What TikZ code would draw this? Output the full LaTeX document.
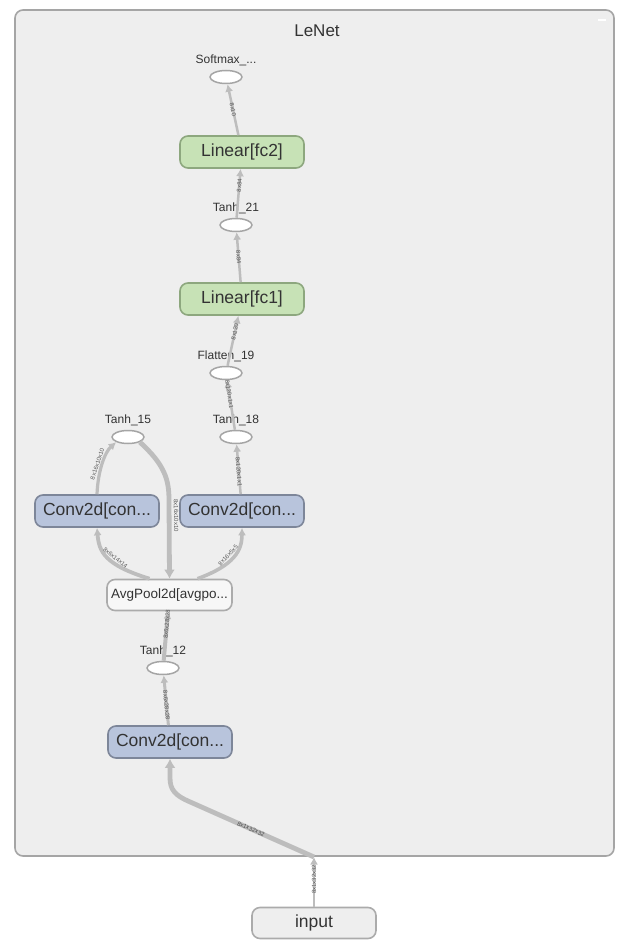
\documentclass[tikz,border=0pt]{standalone}
\usepackage{fontspec}
\setmainfont{Liberation Sans}
\usepackage{tikz}
\usetikzlibrary{arrows.meta,shapes.geometric}
\definecolor{groupfill}{HTML}{EEEEEE}
\definecolor{groupline}{HTML}{A5A5A5}
\definecolor{linfill}{HTML}{C7E2B6}
\definecolor{linline}{HTML}{8DA77E}
\definecolor{convfill}{HTML}{B8C4DC}
\definecolor{convline}{HTML}{7D8699}
\definecolor{poolfill}{HTML}{F7F7F7}
\definecolor{poolline}{HTML}{ABABAB}
\definecolor{edgegray}{HTML}{BDBDBD}
\definecolor{txtdark}{HTML}{333333}
\tikzset{
  graphbox/.style={draw=groupline,fill=groupfill,line width=1.6pt,rounded corners=8pt},
  opbox/.style={draw,line width=1.6pt,rounded corners=8pt,minimum width=124pt,minimum height=32pt,inner sep=0pt,text=txtdark},
  linbox/.style={opbox,fill=linfill,draw=linline,font=\fontsize{17.5}{19}\selectfont},
  convbox/.style={opbox,fill=convfill,draw=convline,font=\fontsize{17.5}{19}\selectfont},
  poolbox/.style={opbox,fill=poolfill,draw=poolline,minimum width=125pt,minimum height=31pt,font=\fontsize{13.5}{15}\selectfont},
  inbox/.style={opbox,fill=groupfill,draw=poolline,minimum height=31pt,font=\fontsize{17.5}{19}\selectfont},
  opdot/.style={ellipse,draw=groupline,fill=white,line width=1.5pt,minimum width=32pt,minimum height=13pt,inner sep=0pt,
    label={[font=\fontsize{12}{13}\selectfont,text=txtdark,label distance=0.5pt]above:#1}},
  edge/.style={draw=edgegray,line width=2.5pt,-{Latex[length=7.5pt,width=8pt]}},
  fatedge/.style={draw=edgegray,line width=4.8pt,-{Latex[length=9pt,width=11pt]}},
  elabel/.style={sloped,font=\fontsize{6}{6}\selectfont,text=black!65,inner sep=0pt}
}
\begin{document}
\begin{tikzpicture}[x=1pt,y=-1pt]
\useasboundingbox[fill=white] (0,0) rectangle (634,952);
\draw[graphbox] (15,10) rectangle (614,856);
\draw[white,line width=1.5pt] (598,20) -- (606,20);
\node[font=\fontsize{17}{19}\selectfont,text=txtdark] (title) at (317,31) {LeNet};

% nodes
\node[opdot={Softmax\_...}] (softmax) at (226,77) {};
\node[linbox] (fc2) at (242,152) {Linear[fc2]};
\node[opdot={Tanh\_21}] (tanh21) at (236,225) {};
\node[linbox] (fc1) at (242,299) {Linear[fc1]};
\node[opdot={Flatten\_19}] (flatten) at (226,373) {};
\node[opdot={Tanh\_18}] (tanh18) at (236,437) {};
\node[opdot={Tanh\_15}] (tanh15) at (128,437) {};
\node[convbox] (convL) at (97,511) {Conv2d[con...};
\node[convbox] (convR) at (242,511) {Conv2d[con...};
\node[poolbox] (pool) at (169.5,595) {AvgPool2d[avgpo...};
\node[opdot={Tanh\_12}] (tanh12) at (163,668) {};
\node[convbox] (convB) at (170,742) {Conv2d[con...};
\node[inbox] (input) at (314,923) {input};
\coordinate (gin) at (314,857);

% edges
\draw[edge] (input) -- (gin) node[pos=0.55,elabel]{8x1x32x32};
\draw[fatedge] (gin) -- (188,801) node[midway,elabel,text=black!70]{8x1x32x32}
  .. controls (170,793) and (170,785) .. (170,775) -- (convB.south);
\draw[edge,line width=3pt] (convB) -- (tanh12) node[pos=0.4,elabel]{8x6x28x28};
\draw[edge,line width=4pt] (tanh12) -- (pool) node[pos=0.74,elabel]{8x6x28x28};
\draw[edge,line width=3.8pt] ([xshift=-20pt]pool.north) .. controls (105,565) and (99,552) .. (convL.south)
  node[pos=0.4,elabel,above=1pt]{8x6x14x14};
\draw[edge,line width=3.6pt] ([xshift=28pt]pool.north) .. controls (235,565) and (242,550) .. (convR.south)
  node[pos=0.45,elabel,above=1pt]{8x16x5x5};
\draw[edge,line width=3.2pt] (convL.north) .. controls (98,470) and (105,452) .. (tanh15.south west)
  node[pos=0.45,elabel,above=1pt]{8x16x10x10};
\draw[fatedge] (tanh15.south east) .. controls (165,465) and (169,480) .. (169,500) -- (pool.north)
  node[pos=0.2,elabel,above=2.5pt]{8x16x10x10};
\draw[edge] (convR) -- (tanh18) node[pos=0.45,elabel]{8x120x1x1};
\draw[edge] (tanh18) -- (flatten) node[pos=0.72,elabel]{8x120x1x1};
\draw[edge] (flatten) -- (fc1) node[pos=0.68,elabel]{8x120};
\draw[edge] (fc1) -- (tanh21) node[midway,elabel]{8x84};
\draw[edge] (tanh21) -- (fc2) node[pos=0.66,elabel]{8x84};
\draw[edge] (fc2) -- (softmax) node[midway,elabel]{8x10};
\end{tikzpicture}
\end{document}
